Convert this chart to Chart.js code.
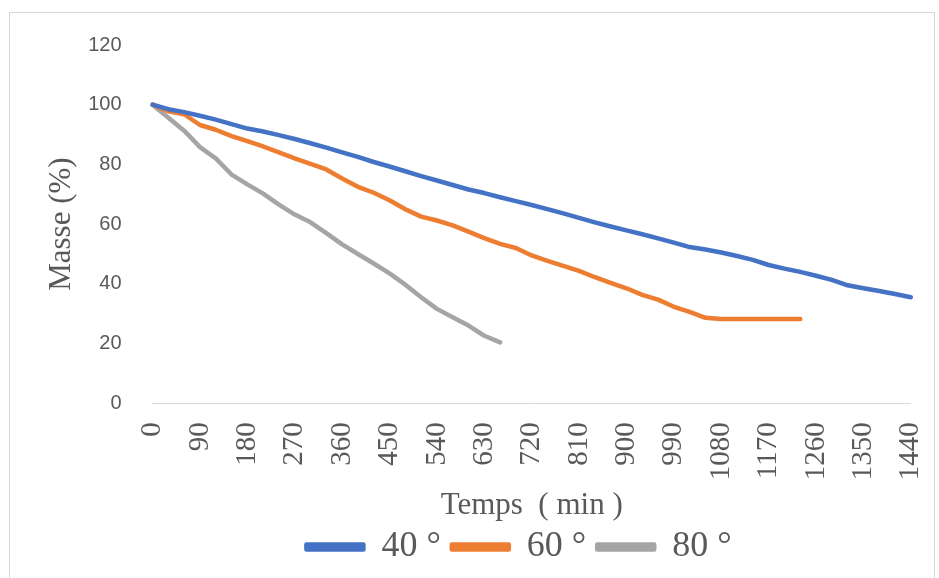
<!DOCTYPE html>
<html>
<head>
<meta charset="utf-8">
<script src="https://cdn.jsdelivr.net/npm/chart.js@4/dist/chart.umd.min.js"></script>
<style>
  html, body { margin: 0; padding: 0; background: #fff; }
  #wrap { position: relative; width: 939px; height: 578px; }
  #frame { position: absolute; left: 9px; top: 12px; width: 926px; height: 580px; border: 1px solid #d9d9d9; box-sizing: border-box; }
  canvas { position: absolute; left: 0; top: 0; }
</style>
</head>
<body>
<div id="wrap">
  <div id="frame"></div>
  <canvas id="chart" width="939" height="578"></canvas>
</div>
<script>
// time in minutes, every 30 min
const timeLabels = [
  0, 30, 60, 90, 120, 150, 180, 210, 240, 270, 300, 330, 360, 390, 420, 450, 480,
  510, 540, 570, 600, 630, 660, 690, 720, 750, 780, 810, 840, 870, 900, 930, 960,
  990, 1020, 1050, 1080, 1110, 1140, 1170, 1200, 1230, 1260, 1290, 1320, 1350, 1380, 1410, 1440
];

const mass40 = [
  100, 98.5, 97.5, 96.3, 95, 93.5, 92, 91, 89.8, 88.5, 87.1, 85.6, 84, 82.5, 80.8, 79.3, 77.7,
  76.1, 74.6, 73.1, 71.6, 70.4, 69, 67.7, 66.4, 65, 63.6, 62.1, 60.6, 59.2, 57.9, 56.6, 55.2,
  53.8, 52.3, 51.5, 50.5, 49.3, 48, 46.3, 45.1, 44, 42.7, 41.3, 39.5, 38.5, 37.6, 36.6, 35.5
];

const mass60 = [
  100, 97.8, 96.8, 93.2, 91.6, 89.5, 87.8, 86, 84, 82, 80.2, 78.3, 75.3, 72.5, 70.5, 68, 65,
  62.5, 61.2, 59.6, 57.5, 55.3, 53.4, 52, 49.5, 47.7, 46, 44.3, 42.2, 40.3, 38.5, 36.3, 34.7,
  32.3, 30.6, 28.6, 28.2, 28.2, 28.2, 28.2, 28.2, 28.2
];

const mass80 = [
  100, 95.6, 91.3, 85.8, 82, 76.6, 73.3, 70.2, 66.5, 63.2, 60.6, 57, 53.2, 50, 46.8, 43.5, 39.7,
  35.5, 31.6, 28.8, 26, 22.6, 20.4
];

const seriesNames = ['40 °', '60 °', '80 °'];
const seriesColors = ['#4472C4', '#ED7D31', '#A5A5A5'];

const textColor = '#595959';
const serif = '"Liberation Serif", "Times New Roman", serif';
const sans = '"Liberation Sans", Arial, sans-serif';

function makeDataset(label, data, color) {
  return {
    label: label,
    data: data,
    borderColor: color,
    backgroundColor: color,
    borderWidth: 4.5,
    borderCapStyle: 'round',
    borderJoinStyle: 'round',
    pointRadius: 0,
    tension: 0,
    fill: false
  };
}

// the legend in the original sits a bit right of centre
const legendShift = {
  id: 'legendShift',
  afterLayout(chart) {
    const legend = chart.legend;
    if (!legend) return;
    legend.left += 28;
    legend.right += 28;
  }
};

new Chart(document.getElementById('chart').getContext('2d'), {
  type: 'line',
  data: {
    labels: timeLabels,
    datasets: [
      makeDataset(seriesNames[0], mass40, seriesColors[0]),
      makeDataset(seriesNames[1], mass60, seriesColors[1]),
      makeDataset(seriesNames[2], mass80, seriesColors[2])
    ]
  },
  options: {
    responsive: false,
    animation: false,
    layout: { padding: { left: 43, right: 0, top: 45, bottom: 3 } },
    scales: {
      x: {
        type: 'category',
        offset: false,
        grid: { display: false, drawTicks: true, tickLength: 14 },
        border: { display: true, color: '#d9d9d9', width: 1 },
        ticks: {
          autoSkip: false,
          minRotation: 90,
          maxRotation: 90,
          padding: 5,
          color: textColor,
          font: { family: serif, size: 29, lineHeight: 0.8 },
          callback: function (value, index) {
            return index % 3 === 0 ? this.getLabelForValue(value) : null;
          }
        },
        title: {
          display: true,
          text: 'Temps  ( min )',
          color: textColor,
          font: { family: serif, size: 31, lineHeight: 0.8 },
          padding: { top: 8, bottom: 0 }
        }
      },
      y: {
        min: 0,
        max: 120,
        grid: { display: false, drawTicks: true, tickLength: 23 },
        border: { display: false },
        ticks: {
          stepSize: 20,
          padding: 8,
          color: textColor,
          font: { family: sans, size: 20 }
        },
        title: {
          display: true,
          text: 'Masse (%)',
          color: textColor,
          font: { family: serif, size: 31 },
          padding: { top: 0, bottom: 0 }
        }
      }
    },
    plugins: {
      legend: {
        position: 'bottom',
        labels: {
          boxWidth: 57,
          boxHeight: 5,
          padding: 11,
          color: textColor,
          font: { family: serif, size: 36 }
        }
      },
      tooltip: { enabled: false }
    }
  },
  plugins: [legendShift]
});
</script>
</body>
</html>
